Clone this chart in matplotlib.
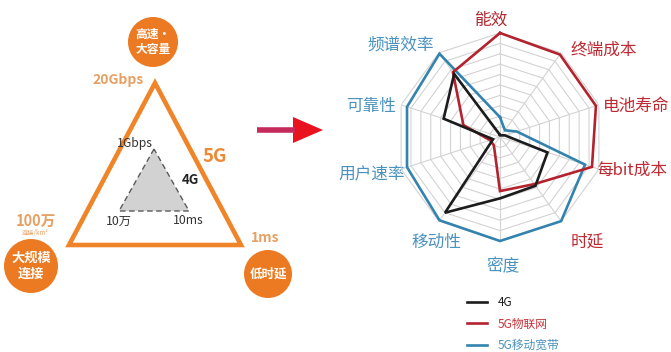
import numpy as np
import matplotlib
matplotlib.use("Agg")
import matplotlib.pyplot as plt
from matplotlib.patches import Polygon, Circle

plt.rcParams['font.family'] = ['Noto Sans CJK SC', 'DejaVu Sans']

# ---------------- data ----------------
categories = ['能效', '终端成本', '电池寿命', '每bit成本', '时延',
              '密度', '移动性', '用户速率', '可靠性', '频谱效率']
series_names = ['4G', '5G物联网', '5G移动宽带']
values_4g = [0.02, 0.02, 0.05, 0.48, 0.58, 0.59, 0.90, 0.07, 0.57, 0.75]
values_5g_iot = [1.00, 0.98, 0.97, 0.93, 0.56, 0.52, 0.10, 0.10, 0.37, 0.77]
values_5g_mbb = [0.19, 0.08, 0.17, 0.86, 1.00, 1.00, 0.99, 0.94, 0.94, 0.99]

# left infographic texts
tri5g_corner_values = ['20Gbps', '100万', '1ms']
tri4g_corner_values = ['1Gbps', '10万', '10ms']
scenario_names = ['高速•\n大容量', '大规模\n连接', '低时延']

# ---------------- styles ----------------
ORANGE = '#EF8429'
ORANGE_TXT = '#EC8A38'
TAN = '#E6A063'
C_4G = '#1c1c1c'
C_IOT = '#B3232E'
C_MBB = '#3383AE'
LBL_RED = '#BE2A32'
LBL_BLUE = '#4A93BF'

W, H = 671, 352
fig = plt.figure(figsize=(W / 100, H / 100), dpi=100)
fig.patch.set_facecolor('white')

ax0 = fig.add_axes([0, 0, 1, 1])
ax0.set_xlim(0, W)
ax0.set_ylim(H, 0)
ax0.axis('off')

# ---------- left panel: triangles ----------
def tri(cx, top, half, height):
    return [(cx, top), (cx - half, top + height), (cx + half, top + height)]

big = tri(155, 83, 86, 162)
ax0.add_patch(Polygon(big, closed=True, fill=False, edgecolor=ORANGE,
                      linewidth=3.3, joinstyle='miter'))
small = tri(154, 149, 35, 62)
ax0.add_patch(Polygon(small, closed=True, facecolor='#d2d2d2', edgecolor='#5a5a5a',
                      linewidth=1.0, linestyle=(0, (4, 2.5))))

# circles with scenario names
circ = [(153, 42, 25, 8.5), (31, 266, 27, 9.5), (268, 274, 24, 9)]
for (cx, cy, r, fs), name in zip(circ, scenario_names):
    ax0.add_patch(Circle((cx, cy), r, facecolor='#EC7A22', edgecolor='none'))
    ax0.text(cx, cy, name, color='white', fontsize=fs, fontweight='bold',
             ha='center', va='center', linespacing=1.15)

ax0.text(118, 80, tri5g_corner_values[0], color=TAN, fontsize=10,
         fontweight='bold', ha='center', va='center')
ax0.text(36, 221, tri5g_corner_values[1], color=TAN, fontsize=10.5,
         fontweight='bold', ha='center', va='center')
ax0.text(35, 233, '连接/km²', color=TAN, fontsize=4.5, ha='center', va='center')
ax0.text(265, 238, tri5g_corner_values[2], color=TAN, fontsize=10,
         fontweight='bold', ha='center', va='center')
ax0.text(215, 156, '5G', color=ORANGE_TXT, fontsize=13.5, fontweight='bold',
         ha='center', va='center')

ax0.text(153, 144, tri4g_corner_values[0], color='#333333', fontsize=8.8,
         fontweight='medium', ha='right', va='center')
ax0.text(190, 180, '4G', color='#222222', fontsize=9.5, fontweight='bold',
         ha='center', va='center')
ax0.text(119, 221, tri4g_corner_values[1], color='#333333', fontsize=8.8,
         fontweight='medium', ha='center', va='center')
ax0.text(188, 221, tri4g_corner_values[2], color='#333333', fontsize=8.8,
         fontweight='medium', ha='center', va='center')

# arrow
ax0.plot([257, 295], [130, 130], color='#C42B5C', linewidth=4, solid_capstyle='butt')
ax0.add_patch(Polygon([(293, 117), (293, 143), (323, 130)], closed=True,
                      facecolor='#E8131F', edgecolor='none'))

# ---------- right panel: radar ----------
CX, CY, R = 500, 137, 104
pa = fig.add_axes([(CX - R) / W, (H - CY - R) / H, 2 * R / W, 2 * R / H],
                  projection='polar')
pa.set_theta_zero_location('N')
pa.set_theta_direction(-1)
pa.set_ylim(0, 1)
pa.grid(False)
pa.set_xticks([])
pa.set_yticks([])
pa.spines['polar'].set_visible(False)
pa.patch.set_alpha(0)

n = len(categories)
ang = np.linspace(0, 2 * np.pi, n, endpoint=False)
ang_c = np.append(ang, ang[0])

for k in range(1, 11):
    pa.plot(ang_c, [k / 10] * (n + 1), color='#d3d3d3', linewidth=0.8, zorder=1)
for a in ang:
    pa.plot([a, a], [0, 1], color='#d3d3d3', linewidth=0.8, zorder=1)

handles = []
for vals, col, name, z in [(values_5g_mbb, C_MBB, series_names[2], 3),
                           (values_5g_iot, C_IOT, series_names[1], 4),
                           (values_4g, C_4G, series_names[0], 5)]:
    v = list(vals) + [vals[0]]
    ln, = pa.plot(ang_c, v, color=col, linewidth=1.9, zorder=z, clip_on=False,
                  solid_joinstyle='miter')
    handles.append(ln)

# category labels (centers, in pixels)
label_pos = [(491, 20), (604, 50), (636, 107), (632, 170), (587, 242),
             (503, 267), (436, 242), (372, 174), (371, 106), (401, 45)]
label_col = [LBL_RED] * 5 + [LBL_BLUE] * 5
label_col[0] = '#B0272F'
for name, (x, y), c in zip(categories, label_pos, label_col):
    ax0.text(x, y, name, color=c, fontsize=12, fontweight='medium',
             ha='center', va='center')

# legend
h_order = [handles[2], handles[1], handles[0]]
leg = fig.legend(h_order, series_names, loc='upper left',
                 bbox_to_anchor=(467 / W, 1 - 296 / H), bbox_transform=fig.transFigure,
                 frameon=False, fontsize=8.5, handlelength=1.7, handletextpad=0.9,
                 labelspacing=0.72, borderpad=0, borderaxespad=0)
for t, c in zip(leg.get_texts(), [C_4G, '#C8323A', '#4A93BF']):
    t.set_color(c)

fig.savefig('out.png', dpi=100, facecolor='white')
